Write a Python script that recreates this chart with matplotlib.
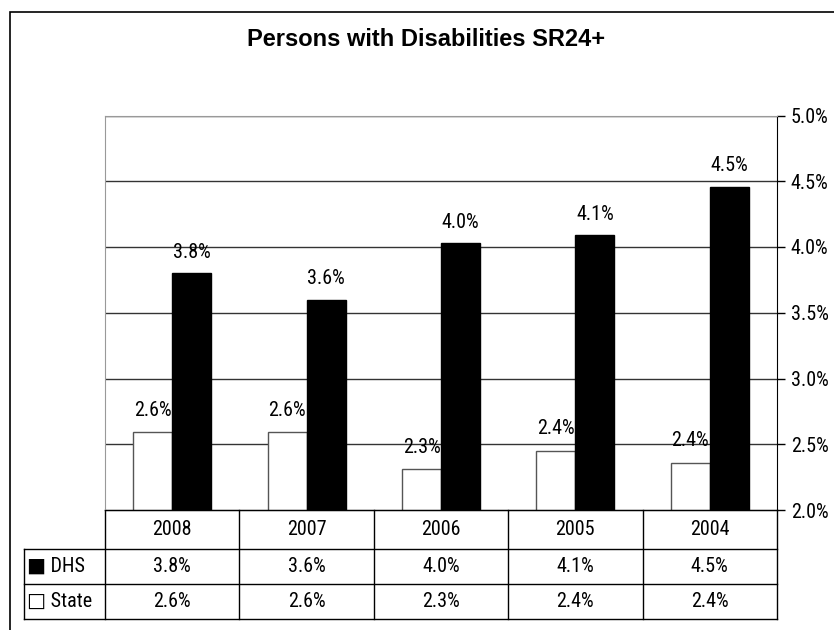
import numpy as np
import matplotlib
matplotlib.use("Agg")
import matplotlib.pyplot as plt
from matplotlib import font_manager
from matplotlib.transforms import blended_transform_factory
from matplotlib.lines import Line2D
from matplotlib.patches import Rectangle

# donnees
years = ["2008", "2007", "2006", "2005", "2004"]
dhs = [3.80, 3.60, 4.03, 4.09, 4.46]
state = [2.59, 2.59, 2.31, 2.45, 2.36]
dhs_txt = ["3.8%", "3.6%", "4.0%", "4.1%", "4.5%"]
state_txt = ["2.6%", "2.6%", "2.3%", "2.4%", "2.4%"]
yticks = [2.0, 2.5, 3.0, 3.5, 4.0, 4.5, 5.0]

def pick(names):
    for nm in names:
        try:
            font_manager.findfont(nm, fallback_to_default=False)
            return nm
        except Exception:
            pass
    return "DejaVu Sans"

narrow = pick(["Liberation Sans Narrow", "DejaVu Sans Condensed", "Roboto Condensed", "Liberation Sans"])
fam = [narrow, "DejaVu Sans"]
fs = 14.5

W, H = 834, 630
fig = plt.figure(figsize=(W / 100, H / 100), dpi=100)
fig.patch.set_facecolor("white")

# cadre exterieur (coupe a droite et en bas)
fig.add_artist(Rectangle((10 / W, -0.1), 1.2, 1.1 - 12 / H, transform=fig.transFigure,
                         fill=False, ec="black", lw=1.2))

x0, x1, ytop, ybot = 105, 777, 115.5, 510
ax = fig.add_axes([x0 / W, 1 - ybot / H, (x1 - x0) / W, (ybot - ytop) / H])

x = np.arange(len(years))
bw = 0.29
b1 = ax.bar(x - bw / 2, state, bw, color="white", edgecolor="#555555", lw=1, zorder=2)
b2 = ax.bar(x + bw / 2, dhs, bw, color="black", edgecolor="black", zorder=2)
ax.bar_label(b1, labels=state_txt, padding=9, fontsize=fs, family=fam)
ax.bar_label(b2, labels=dhs_txt, padding=8, fontsize=fs, family=fam)

ax.set_xlim(-0.5, len(years) - 0.5)
ax.set_ylim(2.0, 5.0)
ax.set_yticks(yticks)
ax.set_yticklabels(["%.1f%%" % v for v in yticks], family=fam, fontsize=fs)
ax.yaxis.tick_right()
ax.tick_params(axis="y", direction="out", length=6, width=1, pad=4, colors="black")
ax.set_xticks([])
for v in yticks[1:]:
    ax.axhline(v, color="#333333", lw=1, zorder=1)
ax.spines["left"].set_color("#999999")
ax.spines["top"].set_color("#999999")
ax.spines["right"].set_color("black")
ax.spines["bottom"].set_color("black")

fig.text(426 / W, 1 - 40 / H, "Persons with Disabilities SR24+", ha="center", va="center",
         fontsize=17, fontweight="bold", family=["Liberation Sans", "DejaVu Sans"])

# tableau de donnees sous le graphique
tr = blended_transform_factory(ax.transData, ax.transAxes)
ah = ybot - ytop
def fy(py):
    return (ybot - py) / ah
r0, r1, r2, r3 = fy(510), fy(549), fy(584), fy(619)
xl = -0.5 - (x0 - 24) / ((x1 - x0) / len(years))
xr = len(years) - 0.5

def hline(xa, xb, y):
    ax.add_line(Line2D([xa, xb], [y, y], transform=tr, color="black", lw=1, clip_on=False))
def vline(xx, ya, yb):
    ax.add_line(Line2D([xx, xx], [ya, yb], transform=tr, color="black", lw=1, clip_on=False))

hline(-0.5, xr, r0)
hline(xl, xr, r1)
hline(xl, xr, r2)
hline(xl, xr, r3)
vline(xl, r1, r3)
for i in range(len(years) + 1):
    vline(i - 0.5, r0, r3)

for i, yr in enumerate(years):
    ax.text(i, (r0 + r1) / 2, yr, transform=tr, ha="center", va="center", fontsize=fs, family=fam)
    ax.text(i, (r1 + r2) / 2, dhs_txt[i], transform=tr, ha="center", va="center", fontsize=fs, family=fam)
    ax.text(i, (r2 + r3) / 2, state_txt[i], transform=tr, ha="center", va="center", fontsize=fs, family=fam)

ax.text(xl + 0.02, (r1 + r2) / 2, "\u25a0 DHS", transform=tr, ha="left", va="center", fontsize=fs, family=fam)
ax.text(xl + 0.02, (r2 + r3) / 2, "\u25a1 State", transform=tr, ha="left", va="center", fontsize=fs, family=fam)

fig.savefig("out.png", dpi=100)
